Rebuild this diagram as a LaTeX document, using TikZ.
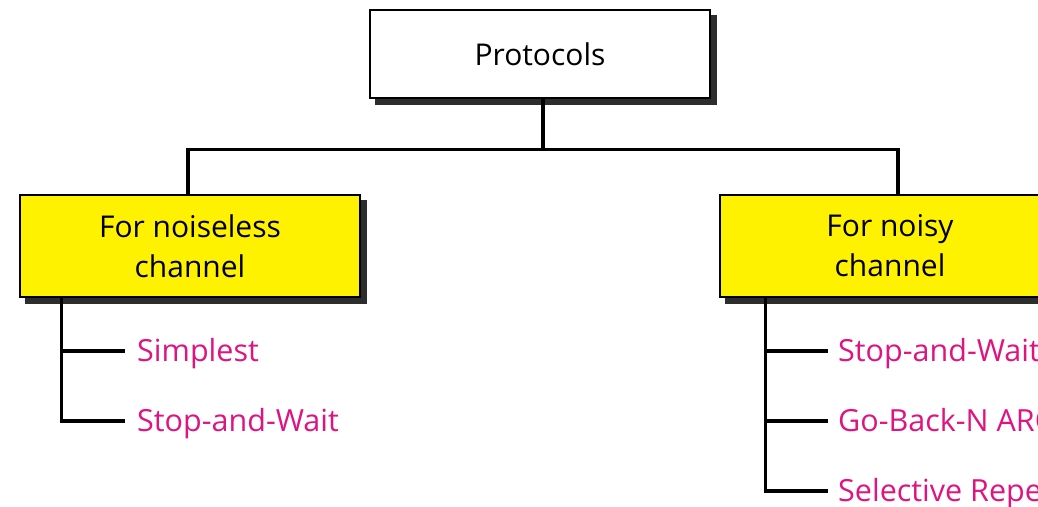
\documentclass[tikz,border=0pt]{standalone}
\usepackage{fontspec}
\setmainfont{Open Sans}
\usetikzlibrary{shadows}
\definecolor{mag}{RGB}{222,20,128}
\definecolor{shd}{RGB}{45,45,45}
\begin{document}
\begin{tikzpicture}[x=1pt,y=-1pt,
  box/.style={draw=black,line width=2.6pt,minimum width=340pt,inner sep=0pt,align=center,
    font=\fontsize{30}{40}\selectfont,
    copy shadow={shadow xshift=6pt,shadow yshift=-6pt,fill=shd,draw=shd}},
  item/.style={anchor=base west,inner sep=0pt,text=mag,font=\fontsize{30.5}{34}\selectfont,text height=20pt,text depth=0pt},
  wire/.style={line width=3.4pt}]
\useasboundingbox (0,0) rectangle (1038,506);
\clip (0,0) rectangle (1038,506);
\node[box,fill=white,minimum height=88pt] (top) at (540,54) {Protocols};
\node[box,fill=yellow,minimum height=102pt] (left) at (190,246) {For noiseless\\channel};
\node[box,fill=yellow,minimum height=102pt] (right) at (890,246) {For noisy\\channel};
\draw[wire] ([xshift=3pt]top.south) -- ++(0,50) coordinate (bus);
\draw[wire] (bus) -| ([xshift=-2pt]left.north);
\draw[wire] (bus) -| ([xshift=8pt]right.north);
\node[item] (l1) at (137,361) {Simplest};
\node[item] (l2) at (137,431) {Stop-and-Wait};
\node[item] (r1) at (838,361) {Stop-and-Wait ARQ};
\node[item] (r2) at (838,431) {Go-Back-N ARQ};
\node[item] (r3) at (838,501) {Selective Repeat ARQ};
\draw[wire] ([xshift=43pt]left.south west) |- ([xshift=-12pt]l2.west);
\draw[wire] ([xshift=43pt]left.south west |- l1.west) -- ([xshift=-12pt]l1.west);
\draw[wire] ([xshift=47pt]right.south west) |- ([xshift=-10pt]r3.west);
\draw[wire] ([xshift=47pt]right.south west |- r1.west) -- ([xshift=-10pt]r1.west);
\draw[wire] ([xshift=47pt]right.south west |- r2.west) -- ([xshift=-10pt]r2.west);
\end{tikzpicture}
\end{document}
